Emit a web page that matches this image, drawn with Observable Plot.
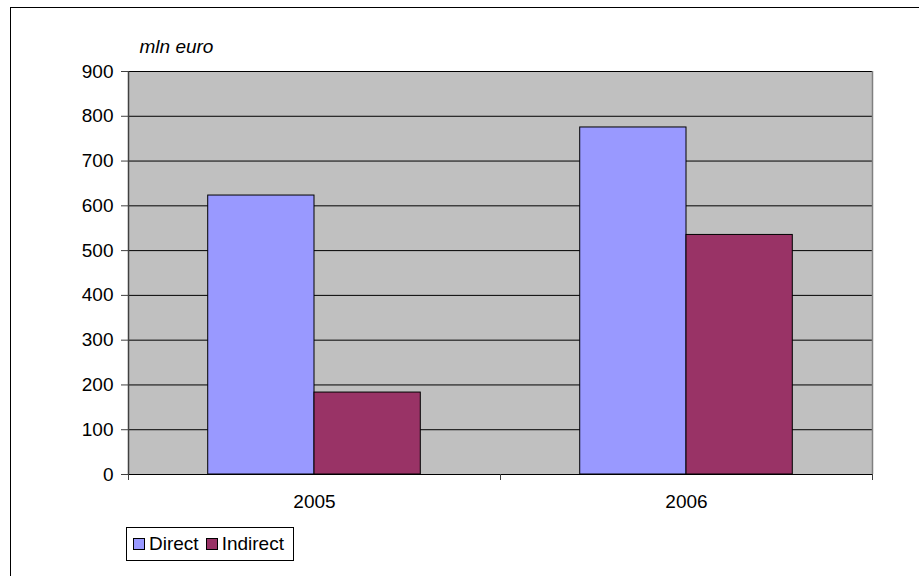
<!DOCTYPE html>
<html>
<head>
<meta charset="utf-8">
<script src="https://cdn.jsdelivr.net/npm/d3@7"></script>
<script src="https://cdn.jsdelivr.net/npm/@observablehq/plot@0.6"></script>
<style>
  body { margin: 0; background: #fff; font-family: "Liberation Sans", Arial, sans-serif; }
  #page { position: relative; width: 919px; height: 576px; overflow: hidden; }
  #outline { position: absolute; left: 10px; top: 7px; width: 2000px; height: 2000px;
    border-left: 1px solid #000; border-top: 1px solid #000; }
  #chart { position: absolute; left: 0; top: 0; }
  .legend { margin: 12px 0 0 126px; display: inline-flex; align-items: center; gap: 4px;
    border: 1px solid #000; padding: 5px 6px; font-size: 19px; background: #fff; }
  .legend span.sw { display: inline-block; width: 10px; height: 10px; border: 1px solid #000; margin-right: 4px; }
  .legend .item { display: inline-flex; align-items: center; margin-right: 3px; }
</style>
</head>
<body>
<div id="page">
  <div id="outline"></div>
  <div id="chart"></div>
</div>
<script>
const years = ["2005", "2006"];
const series = ["Direct", "Indirect"];
const direct = [623, 775];
const indirect = [183, 535];
const colors = ["#9999ff", "#993366"];
const yTicks = [0, 100, 200, 300, 400, 500, 600, 700, 800, 900];

const values = [direct, indirect];
const rows = years.flatMap((year, i) =>
  series.map((s, j) => ({year, i, series: s, j, value: values[j][i]}))
);

// excel style clustered bars: gap width 150%
const gapWidth = 1.5;
const barW = 1 / (series.length + gapWidth);
const pad = gapWidth / 2 * barW;

const chart = Plot.plot({
  width: 919,
  height: 515,
  marginLeft: 128,
  marginRight: 47,
  marginTop: 71,
  marginBottom: 41,
  style: {fontFamily: "Liberation Sans, Arial, sans-serif", fontSize: "19px", color: "#000", background: "transparent"},
  x: {domain: [0, years.length], axis: null},
  y: {domain: [0, 900], axis: null},
  color: {domain: series, range: colors},
  marks: [
    Plot.frame({fill: "#c0c0c0", stroke: null}),
    Plot.ruleY(yTicks, {stroke: "#000", strokeWidth: 1}),
    Plot.rectY(rows, {
      x1: d => d.i + pad + d.j * barW,
      x2: d => d.i + pad + (d.j + 1) * barW,
      y: "value",
      fill: "series",
      stroke: "#000",
      strokeWidth: 1
    }),
    Plot.ruleX([years.length], {stroke: "#808080", strokeWidth: 1.5}),
    Plot.ruleX([0], {stroke: "#404040", strokeWidth: 1.5}),
    Plot.axisY({ticks: yTicks, tickSize: 7, tickPadding: 8, stroke: "#404040", label: null}),
    Plot.axisX({ticks: d3.range(years.length + 1), tickSize: 6, tickFormat: () => "", stroke: "#404040", label: null}),
    Plot.axisX({ticks: years.map((_, i) => i + 0.5), tickSize: 0, tickPadding: 20,
      tickFormat: v => years[Math.floor(v)], label: null}),
    Plot.text(["mln euro"], {frameAnchor: "top-left", dx: 11, dy: -19, lineAnchor: "bottom",
      textAnchor: "start", fontStyle: "italic", fontSize: 19, fill: "#000"})
  ]
});

const holder = d3.select("#chart");
holder.append(() => chart);

const legend = holder.append("div").attr("class", "legend");
series.forEach((s, j) => {
  const item = legend.append("span").attr("class", "item");
  item.append("span").attr("class", "sw").style("background", colors[j]);
  item.append("span").text(s);
});
</script>
</body>
</html>
